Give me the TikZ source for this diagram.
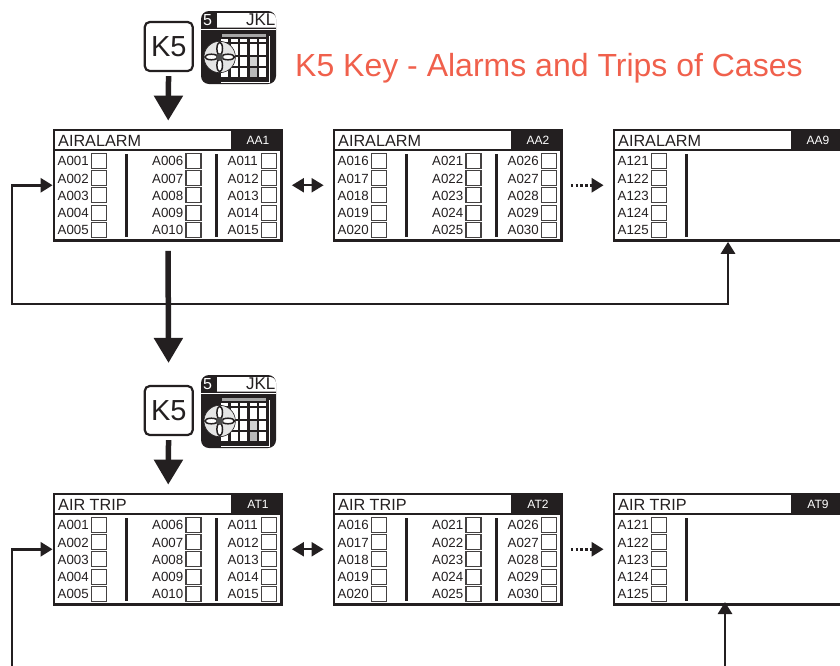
\documentclass[tikz,border=0pt]{standalone}
\usepackage{fontspec}
\setmainfont{Liberation Sans}
\usetikzlibrary{arrows.meta}
\definecolor{inkdark}{HTML}{231F20}
\definecolor{headred}{HTML}{F0604C}
\tikzset{
  panelframe/.style={draw=inkdark, line width=2.8pt, rectangle, fill=white, inner sep=0pt, minimum width=227.5pt, minimum height=110.5pt},
  paneltitle/.style={anchor=base west, inner sep=0pt, text=inkdark, font=\fontsize{16.2}{18}\selectfont},
  paneltag/.style={inner sep=0pt, text=white, font=\fontsize{12}{14}\selectfont},
  alarmlabel/.style={anchor=base west, inner sep=0pt, text=inkdark, font=\fontsize{13.3}{15}\selectfont},
  alarmbox/.style={draw=inkdark!85, line width=1.1pt, rectangle, inner sep=0pt, minimum width=15pt, minimum height=15pt},
  keybox/.style={draw=inkdark, line width=2.2pt, rectangle, rounded corners=5pt, fill=white, inner sep=0pt, minimum width=48pt, minimum height=49pt, text=inkdark, font=\fontsize{29}{30}\selectfont},
  bigarrow/.style={draw=inkdark, line width=5.5pt, -{Triangle[length=25pt,width=28pt]}},
  looparrow/.style={draw=inkdark, line width=2.8pt, -{Triangle[length=12pt,width=14pt]}},
  steparrow/.style={draw=inkdark, line width=2.2pt, {Triangle[length=12pt,width=14pt]}-{Triangle[length=12pt,width=14pt]}, shorten <=9pt, shorten >=9pt},
  morearrow/.style={draw=inkdark, line width=2.8pt, dash pattern=on 2.5pt off 2.2pt, -{Triangle[length=12pt,width=14pt]}, shorten <=8pt, shorten >=9pt}
}
% one column of a panel: panel name, label x, panel y, first number
\newcommand{\alarmcol}[4]{%
  \foreach \r in {0,...,4}{
    \pgfmathtruncatemacro\almnum{#4+\r}
    \pgfmathsetmacro\rowy{#3+31.5+17.2*\r}
    \node[alarmlabel] (#1-l\almnum) at (#2,\rowy+4.8) {A\ifnum\almnum<10 00\else\ifnum\almnum<100 0\fi\fi\almnum};
    \node[alarmbox] (#1-b\almnum) at (#2+41.5,\rowy) {};
  }
}
% panel frame: x, y, name, title, tag
\newcommand{\alarmpanel}[5]{%
  \begin{scope}[shift={(#1,#2)}]
    \node[panelframe] (#3) at (113.75,55.75) {};
    \fill[inkdark] (177,0) rectangle (229,20);
    \draw[inkdark, line width=2.8pt] (0,20.5) -- (229,20.5);
    \node[paneltitle] (#3-title) at (4,16.5) {#4};
    \node[paneltag] (#3-tag) at (204,10.5) {#5};
  \end{scope}
}
\newcommand{\panelbar}[3]{%
  \draw[inkdark, line width=3pt] (#1+#3,#2+24.5) -- (#1+#3,#2+107);
}
% the calendar icon beside the key
\newcommand{\keyicon}[3]{%
  \begin{scope}[shift={(#1,#2)}]
    \fill[inkdark, rounded corners=8pt] (0,0) rectangle (75,73);
    \fill[white] (16,2) {[rounded corners=6pt] -- (75,2)} -- (75,16.5) -- (16,16.5) -- cycle;
    \draw[white, line width=.7pt] (0,18.7) -- (75,18.7);
    \fill[gray!70] (21,23) rectangle (65,26);
    \foreach \cx in {20,29.7,39.3,48.7,58}{
      \fill[white] (\cx,28) rectangle +(7,3);
      \fill[white] (\cx,33) rectangle +(7,11);
      \fill[white] (\cx,46) rectangle +(7,9);
      \fill[white] (\cx,57) rectangle +(7,9);
    }
    \fill[gray!55] (48.7,57) rectangle +(7,9);
    \fill[gray!35] (48.7,46) rectangle +(7,9);
    \draw[white, line width=.8pt] (68,25) -- (68,71) -- (20,71);
    \fill[white!90!black, draw=inkdark, line width=.6pt] (18.7,46) circle (15.7pt);
    \foreach \a in {0,90,180,270}{
      \draw[inkdark, fill=white, line width=1.5pt, rotate around={\a:(18.7,46)}] (27,46) ellipse [x radius=6.5pt, y radius=2.8pt];
    }
    \fill[gray!60!black] (18.7,46) circle (3.8pt);
    \node[anchor=base west, inner sep=0pt, text=white, font=\fontsize{16}{18}\selectfont] (#3-five) at (2,14) {5};
    \node[anchor=base east, inner sep=0pt, text=inkdark, font=\fontsize{17}{18}\selectfont] (#3-jkl) at (74.5,14) {JKL};
  \end{scope}
}
\begin{document}
\begin{tikzpicture}[x=1pt,y=-1pt]
\useasboundingbox (0,0) rectangle (840,665);

\node[anchor=base west, inner sep=0pt, text=headred, font=\fontsize{32}{36}\selectfont] (heading) at (295,76.7) {K5 Key - Alarms and Trips of Cases};

% alarm screens
\node[keybox] (keyA) at (168.75,46.5) {K5};
\keyicon{201}{11}{iconA}
\alarmpanel{54}{129.5}{aa1}{AIRALARM}{AA1}
\alarmcol{aa1}{57.5}{129.5}{1}
\alarmcol{aa1}{152}{129.5}{6}
\alarmcol{aa1}{227.5}{129.5}{11}
\panelbar{54}{129.5}{72}
\panelbar{54}{129.5}{162}
\alarmpanel{334}{129.5}{aa2}{AIRALARM}{AA2}
\alarmcol{aa2}{337.5}{129.5}{16}
\alarmcol{aa2}{432}{129.5}{21}
\alarmcol{aa2}{507.5}{129.5}{26}
\panelbar{334}{129.5}{72}
\panelbar{334}{129.5}{162}
\alarmpanel{614}{129.5}{aa9}{AIRALARM}{AA9}
\alarmcol{aa9}{617.5}{129.5}{121}
\panelbar{614}{129.5}{72}

% trip screens
\node[keybox] (keyT) at (168.75,410.5) {K5};
\keyicon{201}{375}{iconT}
\alarmpanel{54}{493.5}{at1}{AIR TRIP}{AT1}
\alarmcol{at1}{57.5}{493.5}{1}
\alarmcol{at1}{152}{493.5}{6}
\alarmcol{at1}{227.5}{493.5}{11}
\panelbar{54}{493.5}{72}
\panelbar{54}{493.5}{162}
\alarmpanel{334}{493.5}{at2}{AIR TRIP}{AT2}
\alarmcol{at2}{337.5}{493.5}{16}
\alarmcol{at2}{432}{493.5}{21}
\alarmcol{at2}{507.5}{493.5}{26}
\panelbar{334}{493.5}{72}
\panelbar{334}{493.5}{162}
\alarmpanel{614}{493.5}{at9}{AIR TRIP}{AT9}
\alarmcol{at9}{617.5}{493.5}{121}
\panelbar{614}{493.5}{72}

\coordinate (bendA) at (12,304);
\coordinate (footA) at (728,241.8);
\coordinate (freeLeft) at (12,670);
\coordinate (freeRight) at (725,670);
\coordinate (footT) at (725,602);

\draw[looparrow, {Triangle[length=12pt,width=14pt]}-{Triangle[length=12pt,width=14pt]}] (aa1.west) -| (bendA) -| (footA);
\draw[looparrow] (freeLeft) |- (at1.west);
\draw[looparrow] (freeRight) -- (footT);

\draw[bigarrow, shorten <=4pt, shorten >=8pt] (keyA) -- (aa1);
\draw[bigarrow, shorten <=9pt, shorten >=22pt] (aa1) -- (keyT);
\draw[bigarrow, shorten <=4pt, shorten >=8pt] (keyT) -- (at1);

\draw[steparrow] (aa1) -- (aa2);
\draw[morearrow] (aa2) -- (aa9);
\draw[steparrow] (at1) -- (at2);
\draw[morearrow] (at2) -- (at9);
\end{tikzpicture}
\end{document}
